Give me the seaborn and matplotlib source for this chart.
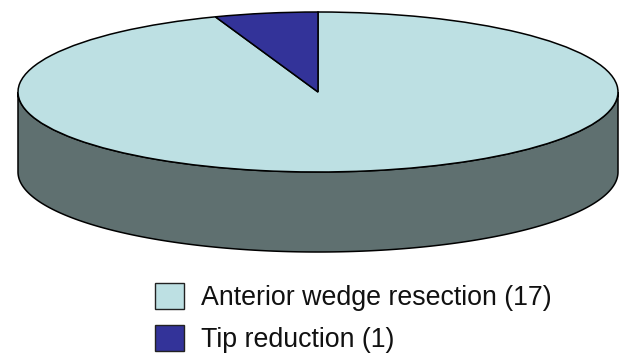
import numpy as np
import matplotlib
matplotlib.use("Agg")
import matplotlib.pyplot as plt
import seaborn as sns
from matplotlib.patches import Polygon, Patch

# --- datos ---
labels = ["Anterior wedge resection", "Tip reduction"]
counts = [17, 1]
top_colors = ["#bde0e3", "#333399"]
side_colors = ["#5f7070", "#1f1f5c"]

sns.set_theme(style="white")
plt.rcParams['font.family'] = ['Liberation Sans', 'DejaVu Sans']

fig = plt.figure(figsize=(6.25, 3.54), dpi=100)
ax = fig.add_axes([18 / 625, (354 - 252) / 354, 600 / 625, 240 / 354])

depth = 1.0

# pastel (tapa superior)
wedges, _ = ax.pie(counts, colors=top_colors, startangle=90, counterclock=False,
                   wedgeprops=dict(edgecolor="black", linewidth=1.1), radius=1.0)
for w in wedges:
    w.set_zorder(3)

# lateral: sólo la mitad frontal (180..360 grados)
for w, sc in zip(wedges, side_colors):
    t1, t2 = w.theta1, w.theta2
    for k in range(-1, 3):
        a = max(t1, 180 + 360 * k)
        b = min(t2, 360 + 360 * k)
        if b <= a:
            continue
        t = np.radians(np.linspace(a, b, 200))
        xs = np.concatenate([np.cos(t), np.cos(t[::-1])])
        ys = np.concatenate([np.sin(t), np.sin(t[::-1]) - depth])
        ax.add_patch(Polygon(np.column_stack([xs, ys]), closed=True, facecolor=sc,
                             edgecolor="black", linewidth=1.1, zorder=2))

ax.set_aspect("auto")
ax.set_xlim(-1, 1)
ax.set_ylim(-1 - depth, 1)
ax.axis("off")
for art in ax.patches:
    art.set_clip_on(False)

handles = [Patch(facecolor=c, edgecolor="#222222", linewidth=1.0) for c in top_colors]
leg_labels = [f"{l} ({n})" for l, n in zip(labels, counts)]
fig.legend(handles, leg_labels, loc="upper left", bbox_to_anchor=(155 / 625, 1 - 283 / 354),
           frameon=False, fontsize=19.3, handlelength=1.1, handleheight=1.1, borderpad=0,
           borderaxespad=0, handletextpad=0.62, labelspacing=0.53, labelcolor="#111111")

fig.savefig("out.png", dpi=100)
